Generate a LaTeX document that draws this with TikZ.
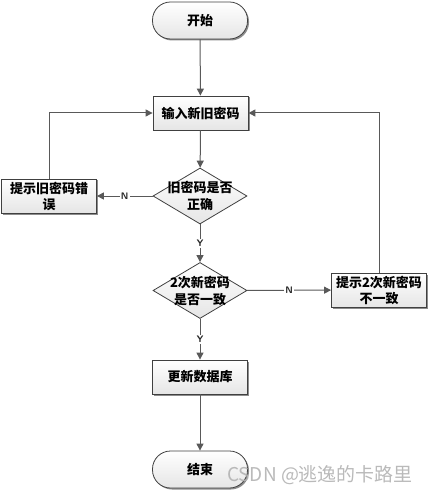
\documentclass[tikz,border=0pt]{standalone}
\usepackage{fontspec}
\setmainfont{Liberation Sans}
\newfontfamily\cjk{Noto Sans CJK SC}
\usetikzlibrary{arrows.meta,shapes.geometric,shadows}
\definecolor{linec}{HTML}{595959}
\definecolor{boxline}{HTML}{404040}
\begin{document}
\begin{tikzpicture}[x=1bp,y=-1bp,
  box/.style={draw=boxline, line width=0.8bp, top color=white, bottom color=gray!20,
    minimum width=95bp, minimum height=34bp, inner sep=1bp, align=center,
    font=\cjk\bfseries\fontsize{13bp}{16bp}\selectfont,
    drop shadow={shadow xshift=1.5bp, shadow yshift=-1.5bp, fill=black, opacity=0.45}},
  term/.style={box, rounded corners=18bp, minimum height=37bp},
  dia/.style={diamond, draw=boxline, line width=0.8bp, top color=white, bottom color=gray!20,
    minimum width=94bp, minimum height=56bp, inner sep=0pt},
  txt/.style={align=center, font=\cjk\bfseries\fontsize{13bp}{17bp}\selectfont},
  line/.style={draw=linec, line width=1bp, -{Triangle[length=7bp,width=7bp]}},
  lab/.style={fill=white, inner sep=1bp, font=\sffamily\bfseries\fontsize{9.5bp}{10bp}\selectfont, text=black!85}
]
\useasboundingbox (0,0) rectangle (431,494);
\node[term] (s) at (200,20.5) {开始};
\node[box] (in) at (200.5,113) {输入新旧密码};
\node[dia] (d1) at (200,196) {};
\node[txt] at (d1) {旧密码是否\\正确};
\node[box] (lb) at (49,196) {提示旧密码错\\误};
\node[dia] (d2) at (200,290.5) {};
\node[txt] at (d2) {2次新密码\\是否一致};
\node[box] (rb) at (379,290) {提示2次新密码\\不一致};
\node[box] (up) at (200,377) {更新数据库};
\node[term] (e) at (200,469.5) {结束};

\draw[line] (s) -- (in);
\draw[line] (in) -- (d1);
\draw[line] (d1) -- node[lab]{N} (lb);
\draw[line] (lb.north) |- (in.west);
\draw[line] (d1) -- node[lab]{Y} (d2);
\draw[line] (d2) -- node[lab]{N} (rb);
\draw[line] (rb.north) |- (in.east);
\draw[line] (d2) -- node[lab]{Y} (up);
\draw[line] (up) -- (e);

\node[font=\cjk\fontsize{19bp}{21bp}\selectfont, text=gray!60, opacity=0.9] (wm) at (320,475) {CSDN @逃逸的卡路里};
\end{tikzpicture}
\end{document}
